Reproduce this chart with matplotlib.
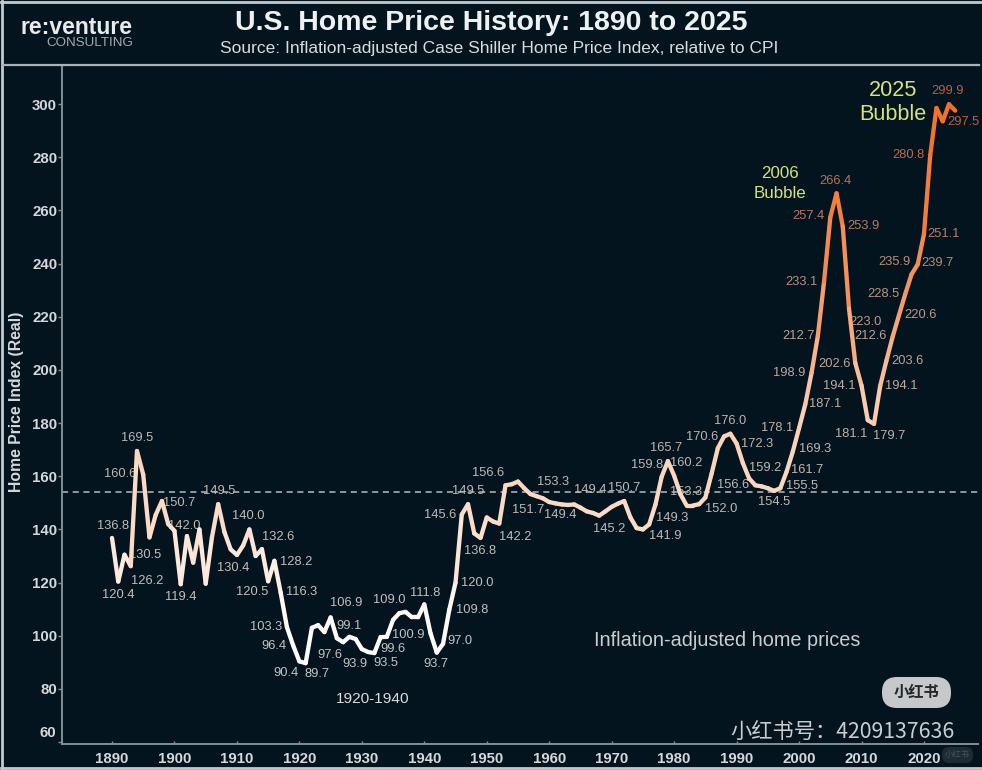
import numpy as np
import matplotlib
matplotlib.use("Agg")
import matplotlib.pyplot as plt
from matplotlib.collections import LineCollection
from matplotlib.colors import LinearSegmentedColormap, Normalize
from matplotlib.lines import Line2D
from matplotlib.patches import FancyBboxPatch


W, H = 982, 770
BG = "#04141f"
SANS = ["Liberation Sans", "DejaVu Sans"]
CJK = ["Noto Sans CJK SC", "DejaVu Sans"]

YEARS = np.arange(1890, 2026)
PRICES = [
    136.8, 120.4, 130.5, 126.2, 169.5, 160.6, 137.0, 145.5, 150.7, 142.0,
    139.5, 119.4, 137.5, 127.5, 140.0, 119.6, 137.0, 149.5, 139.0, 132.5,
    130.4, 134.0, 140.0, 130.0, 132.6, 120.5, 128.2, 116.3, 103.3, 96.4,
    90.4, 89.7, 103.0, 104.0, 101.4, 106.9, 99.1, 97.6, 99.6, 98.8,
    95.0, 93.9, 93.5, 99.5, 99.6, 106.0, 108.5, 109.0, 107.0, 107.0,
    111.8, 100.9, 93.7, 97.0, 109.8, 120.0, 145.6, 149.5, 138.5, 136.8,
    144.5, 143.0, 142.2, 156.6, 157.0, 158.0, 155.5, 153.3, 152.5, 151.7,
    150.3, 149.8, 149.4, 149.2, 149.4, 148.2, 146.8, 146.2, 145.2, 146.8,
    148.5, 149.7, 150.7, 144.5, 140.5, 140.0, 141.9, 149.3, 159.8, 165.7,
    160.2, 153.3, 149.0, 149.0, 149.5, 152.0, 161.0, 170.6, 175.0, 176.0,
    172.3, 165.0, 159.2, 156.6, 156.2, 155.5, 154.5, 155.5, 161.7, 169.3,
    178.1, 187.1, 198.9, 212.7, 233.1, 257.4, 266.4, 253.9, 223.0, 202.6,
    194.1, 181.1, 179.7, 194.1, 203.6, 212.6, 220.6, 228.5, 235.9, 239.7,
    251.1, 280.8, 298.5, 293.5, 299.9, 297.5,
]
LONG_RUN_AVG = 154

X_TICKS = np.arange(1890, 2021, 10)
Y_TICKS = np.arange(60, 301, 20)

# label offsets from the point, in image pixels (dx right, dy down)
LABEL_OFFSETS = {
    1890: (1, -12), 1891: (0, 13), 1892: (21, 0), 1893: (16, 15), 1894: (0, -13),
    1895: (-23, -1), 1898: (17, 2), 1899: (16, 2), 1901: (0, 13), 1907: (1, -13),
    1910: (-4, 13), 1912: (-1, -13), 1914: (16, -12), 1915: (-16, 11), 1916: (22, 1),
    1917: (21, 0), 1918: (-21, 0), 1919: (-19, 1), 1920: (-13, 12), 1921: (11, 11),
    1925: (16, -14), 1926: (12, -12), 1927: (-13, 13), 1931: (-13, 12), 1932: (12, 10),
    1934: (6, 12), 1937: (-16, -12), 1940: (1, -11), 1941: (-22, 2), 1942: (-1, 11),
    1943: (17, -3), 1944: (23, 0), 1945: (22, 0), 1946: (-22, 0), 1947: (0, -13),
    1949: (0, 13), 1952: (16, 13), 1953: (-17, -12), 1957: (23, -12), 1959: (-15, 12),
    1962: (-1, 11), 1964: (16, -14), 1968: (10, 13), 1972: (0, -13), 1976: (16, 12),
    1977: (17, 13), 1978: (-15, -12), 1979: (-2, -13), 1980: (12, -13), 1981: (6, -2),
    1985: (16, 11), 1987: (-16, -11), 1989: (0, -13), 1990: (21, 0), 1992: (16, -10),
    1993: (-22, 0), 1996: (0, 11), 1997: (22, -2), 1998: (21, -2), 1999: (22, -3),
    2000: (-22, 0), 2001: (20, 0), 2002: (-22, 0), 2003: (-19, 0), 2004: (-23, 0),
    2005: (-22, -1), 2006: (-1, -12), 2007: (21, -1), 2008: (16, 13), 2009: (-21, 1),
    2010: (-22, 0), 2011: (-17, 14), 2012: (15, 12), 2013: (21, 0), 2014: (21, 1),
    2015: (-22, 0), 2016: (22, 0), 2017: (-22, 0), 2018: (-17, -12), 2019: (20, -1),
    2020: (20, 0), 2021: (-22, 0), 2024: (-1, -13), 2025: (8, 11),
}

line_cmap = LinearSegmentedColormap.from_list(
    "line",
    [(0.0, "#ffffff"), (0.12, "#fff6f0"), (0.25, "#fbdcc8"), (0.45, "#f9d0b4"),
     (0.55, "#f8b48c"), (0.68, "#f49460"), (0.82, "#f27f3e"), (1.0, "#f4702a")],
)
label_cmap = LinearSegmentedColormap.from_list(
    "label",
    [(0.0, "#c2c4c4"), (0.4, "#bdb5ae"), (0.6, "#bb9f8c"), (0.8, "#b9785c"), (1.0, "#b9603f")],
)
norm = Normalize(90, 300)

fig = plt.figure(figsize=(W / 100, H / 100), dpi=100, facecolor=BG)

# axes placed so the ticks land where they do in the picture
ax = fig.add_axes([62 / W, 1 - 744 / H, (978 - 62) / W, (744 - 65) / H], facecolor=BG)
ax.set_xlim(1890 - 50 / 6.246, 1890 + 866 / 6.246)
ax.set_ylim(300 - 640 / 2.659, 300 + 39 / 2.659)

ax.axhline(LONG_RUN_AVG, color="#b5bcc0", linewidth=1.1, linestyle=(0, (4, 3)), zorder=1)

prices = np.array(PRICES)
points = np.column_stack([YEARS, prices])
segments = np.stack([points[:-1], points[1:]], axis=1)
lc = LineCollection(segments, cmap=line_cmap, norm=norm, linewidth=3.1,
                    capstyle="round", joinstyle="round", zorder=3)
lc.set_array((prices[:-1] + prices[1:]) / 2)
ax.add_collection(lc)

for year, (dx, dy) in LABEL_OFFSETS.items():
    value = prices[year - 1890]
    ax.annotate(f"{value:.1f}", (year, value), xytext=(dx, -dy), textcoords="offset pixels",
                ha="center", va="center", fontsize=9.3, family=SANS,
                color=label_cmap(norm(value)), zorder=2, annotation_clip=False)

for side in ["top", "right"]:
    ax.spines[side].set_visible(False)
for side in ["left", "bottom"]:
    ax.spines[side].set_color("#848f95")
    ax.spines[side].set_linewidth(1.4)

ax.set_xticks(X_TICKS)
ax.set_yticks(Y_TICKS)
ax.set_yticklabels([""] + [str(v) for v in Y_TICKS[1:]])
ax.tick_params(axis="y", length=3, width=1, color="#848f95", pad=0.5, labelcolor="#d4d8da")
ax.tick_params(axis="x", length=2, width=1, direction="in", color="#848f95", pad=6, labelcolor="#d4d8da")
for lab in ax.get_xticklabels() + ax.get_yticklabels():
    lab.set_family(SANS)
    lab.set_fontweight("bold")
    lab.set_fontsize(10.8)

# pixel-space overlay for titles, logo, notes and watermark
ov = fig.add_axes([0, 0, 1, 1], facecolor="none")
ov.set_xlim(0, W)
ov.set_ylim(H, 0)
ov.axis("off")

edge = "#c4c9cc"
ov.add_line(Line2D([2, 2], [1, H - 1], color=edge, linewidth=2))
ov.add_line(Line2D([1, W - 1], [2, 2], color=edge, linewidth=2))
ov.add_line(Line2D([1, W - 1], [H - 2, H - 2], color=edge, linewidth=2))
ov.add_line(Line2D([3, W - 3], [65, 65], color="#a9b3b8", linewidth=1.6))

ov.text(491, 23, "U.S. Home Price History: 1890 to 2025", ha="center", va="center",
        fontsize=20.5, fontweight="bold", family=SANS, color="#eef1f2")
ov.text(499, 49, "Source: Inflation-adjusted Case Shiller Home Price Index, relative to CPI",
        ha="center", va="center", fontsize=12.5, family=SANS, color="#d8dcde")

ov.text(133, 27, "re:venture", ha="right", va="center", fontsize=16.5, family=SANS,
        fontweight="bold", color="#e8eaeb")
ov.text(133, 43, "CONSULTING", ha="right", va="center", fontsize=9.6, family=SANS, color="#a4abaf")

ov.text(56, 733, "60", ha="right", va="center", fontsize=10.8, fontweight="bold",
        family=SANS, color="#d4d8da")
ov.text(17, 402, "Home Price Index (Real)", rotation=90, ha="center", va="center",
        fontsize=11.3, fontweight="bold", family=SANS, color="#d4d8da")

ov.text(893, 91, "2025", ha="center", va="center", fontsize=15.6, family=SANS, color="#d4e27c")
ov.text(893, 115, "Bubble", ha="center", va="center", fontsize=15.6, family=SANS, color="#d4e27c")
ov.text(780, 174, "2006", ha="center", va="center", fontsize=12.2, family=SANS, color="#d4e27c")
ov.text(780, 194, "Bubble", ha="center", va="center", fontsize=12.2, family=SANS, color="#d4e27c")
ov.text(373, 699, "1920-1940", ha="center", va="center", fontsize=11.1, family=SANS, color="#d8dcde")
ov.text(727, 641, "Inflation-adjusted home prices", ha="center", va="center", fontsize=14.3,
        family=SANS, color="#c8cdd0")

ov.add_patch(FancyBboxPatch((882, 677), 69, 31, boxstyle="round,pad=0,rounding_size=15",
                            facecolor="#c6c8c9", edgecolor="none"))
ov.text(916, 692, "小红书", ha="center", va="center", fontsize=11, fontweight="bold",
        family=CJK, color="#20262a")
ov.text(730, 733, "小红书号：4209137636", ha="left", va="center", fontsize=15.3,
        family=CJK, color="#c8cdd0")
ov.add_patch(FancyBboxPatch((942, 747), 31, 16, boxstyle="round,pad=0,rounding_size=7",
                            facecolor="#1c2b34", edgecolor="none"))
ov.text(957, 755, "小红书", ha="center", va="center", fontsize=6, family=CJK, color="#46545c")

fig.savefig("out.png", dpi=100, facecolor=BG)
